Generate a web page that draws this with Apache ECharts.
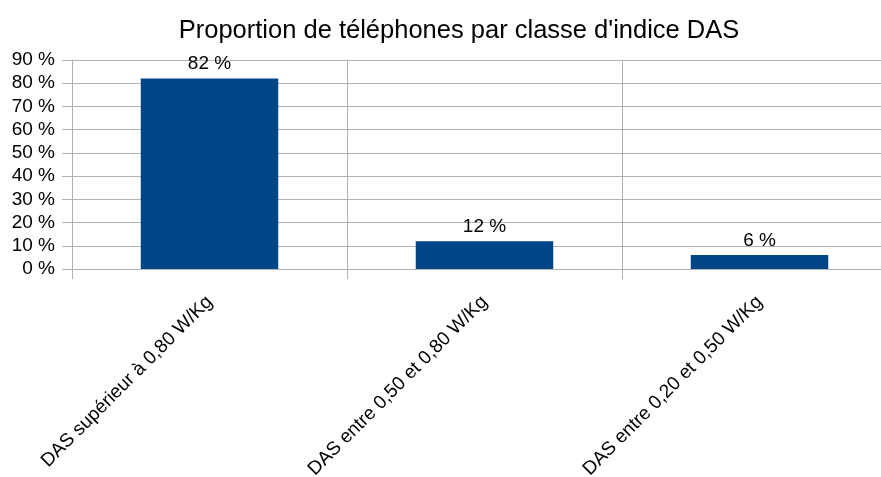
<!DOCTYPE html>
<html>
<head>
<meta charset="utf-8" />
<title>DAS</title>
<style>
  html, body { margin: 0; padding: 0; background: #fff; overflow: hidden; }
  #main { width: 881px; height: 477px; }
</style>
</head>
<body>
<script src="https://cdn.jsdelivr.net/npm/echarts@6/dist/echarts.min.js"></script>
<div id="main"></div>
<script>
  var categories = [
    "DAS supérieur à 0,80 W/Kg",
    "DAS entre 0,50 et 0,80 W/Kg",
    "DAS entre 0,20 et 0,50 W/Kg"
  ];
  var shares = [82, 12, 6];

  var font = "Liberation Sans";
  var chart = echarts.init(document.getElementById("main"));

  chart.setOption({
    animation: false,
    textStyle: { fontFamily: font },
    title: {
      text: "Proportion de téléphones par classe d'indice DAS",
      left: 454,
      textAlign: "center",
      top: 13,
      textStyle: { fontFamily: font, fontSize: 25.5, fontWeight: "normal", color: "#000" }
    },
    // the plot runs past the right edge of the picture, as in the original
    grid: { left: 72, top: 60, width: 825, height: 209, containLabel: false, outerBoundsMode: "none" },
    xAxis: {
      type: "category",
      data: categories,
      axisLine: { lineStyle: { color: "#b3b3b3" } },
      axisTick: { show: true, length: 10, lineStyle: { color: "#b3b3b3" } },
      splitLine: { show: true, lineStyle: { color: "#b3b3b3" } },
      axisLabel: {
        rotate: 45,
        margin: 30,
        interval: 0,
        fontFamily: font,
        fontSize: 19,
        color: "#000"
      }
    },
    yAxis: {
      type: "value",
      min: 0,
      max: 90,
      interval: 10,
      axisLine: { show: true, lineStyle: { color: "#b3b3b3" } },
      axisTick: { show: true, length: 10, lineStyle: { color: "#b3b3b3" } },
      splitLine: { show: true, lineStyle: { color: "#b3b3b3" } },
      axisLabel: {
        margin: 17,
        fontFamily: font,
        fontSize: 19,
        color: "#000",
        formatter: function (v) { return v + " %"; }
      }
    },
    series: [{
      type: "bar",
      data: shares,
      barWidth: "50%",
      itemStyle: { color: "#004586" },
      label: {
        show: true,
        position: "top",
        distance: 5,
        fontFamily: font,
        fontSize: 19,
        color: "#000",
        formatter: function (p) { return p.value + " %"; }
      }
    }]
  });
</script>
</body>
</html>
